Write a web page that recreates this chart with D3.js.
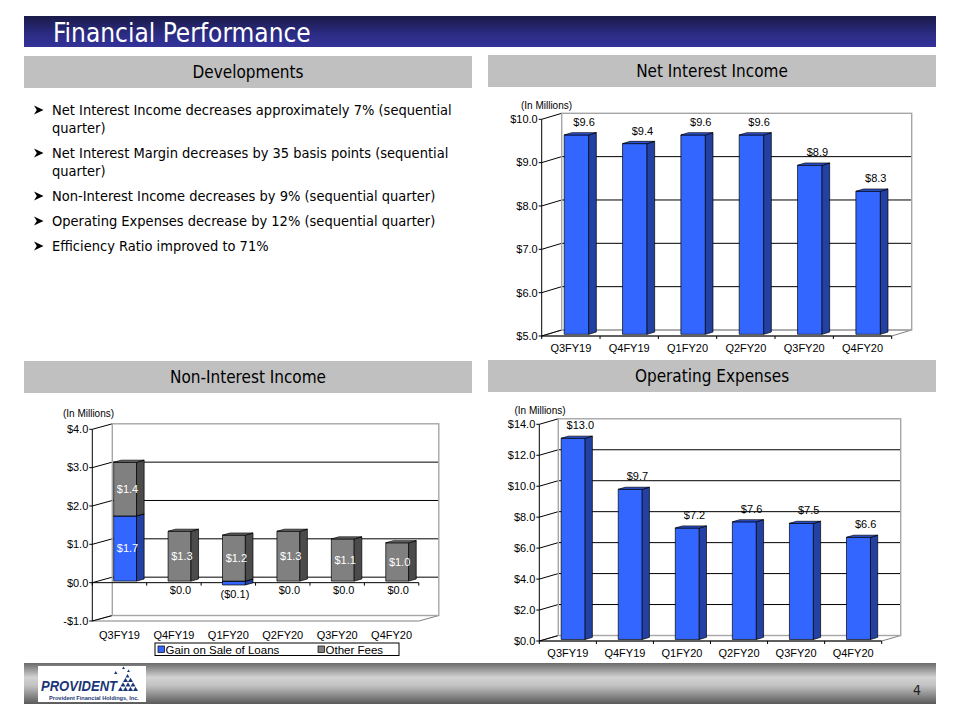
<!DOCTYPE html>
<html>
<head>
<meta charset="utf-8">
<script src="https://cdn.jsdelivr.net/npm/d3@7"></script>
<style>
  html, body { margin: 0; padding: 0; background: #fff; }
  svg { display: block; }
  .slide-text { font-family: "DejaVu Sans", sans-serif; font-stretch: condensed; }
  .chart-text { font-family: "Liberation Sans", Arial, sans-serif; }
</style>
</head>
<body>
<svg id="slide" width="960" height="720"></svg>
<script>
// ---- data ----
const quarters = ["Q3FY19", "Q4FY19", "Q1FY20", "Q2FY20", "Q3FY20", "Q4FY20"];
const netInterestIncome = [9.6, 9.4, 9.6, 9.6, 8.9, 8.3];
const gainOnSaleOfLoans = [1.7, 0.0, -0.1, 0.0, 0.0, 0.0];
const otherFees = [1.4, 1.3, 1.2, 1.3, 1.1, 1.0];
const operatingExpenses = [13.0, 9.7, 7.2, 7.6, 7.5, 6.6];
const nonInterestSeries = ["Gain on Sale of Loans", "Other Fees"];

const niiTicks = [5, 6, 7, 8, 9, 10];
const nonIntTicks = [-1, 0, 1, 2, 3, 4];
const opexTicks = [0, 2, 4, 6, 8, 10, 12, 14];

const bullets = [
  ["Net Interest Income decreases approximately 7% (sequential", "quarter)"],
  ["Net Interest Margin decreases by 35 basis points (sequential", "quarter)"],
  ["Non-Interest Income decreases by 9% (sequential quarter)"],
  ["Operating Expenses decrease by 12% (sequential quarter)"],
  ["Efficiency Ratio improved to 71%"]
];

const blueFaces = { front: "#3366ff", top: "#2d55dc", side: "#2341a3" };
const grayFaces = { front: "#808080", top: "#6c6c6c", side: "#4b4b4b" };

const svg = d3.select("#slide");
const defs = svg.append("defs");

// ---- slide chrome ----
let titleGrad = defs.append("linearGradient").attr("id", "titleGrad")
  .attr("x1", "0%").attr("y1", "0%").attr("x2", "0%").attr("y2", "100%");
titleGrad.append("stop").attr("offset", "0%").attr("stop-color", "#1a1a48");
titleGrad.append("stop").attr("offset", "60%").attr("stop-color", "#2c2c86");
titleGrad.append("stop").attr("offset", "100%").attr("stop-color", "#333399");

let footGrad = defs.append("linearGradient").attr("id", "footGrad")
  .attr("x1", "0%").attr("y1", "0%").attr("x2", "0%").attr("y2", "100%");
footGrad.append("stop").attr("offset", "0%").attr("stop-color", "#6a6a6a");
footGrad.append("stop").attr("offset", "35%").attr("stop-color", "#d2d2d2");
footGrad.append("stop").attr("offset", "55%").attr("stop-color", "#c2c2c2");
footGrad.append("stop").attr("offset", "100%").attr("stop-color", "#5a5a5a");

svg.append("rect").attr("x", 24).attr("y", 16).attr("width", 912).attr("height", 31)
  .attr("fill", "url(#titleGrad)");
svg.append("text").attr("class", "slide-text")
  .attr("x", 53).attr("y", 42).attr("fill", "#fff").attr("font-size", 26)
  .text("Financial Performance");

let headers = [
  { label: "Developments", x: 24, y: 56 },
  { label: "Net Interest Income", x: 488, y: 55 },
  { label: "Non-Interest Income", x: 24, y: 361 },
  { label: "Operating Expenses", x: 488, y: 360 }
];
headers.forEach((h) => {
  svg.append("rect").attr("x", h.x).attr("y", h.y).attr("width", 448).attr("height", 32)
    .attr("fill", "#c0c0c0");
  svg.append("text").attr("class", "slide-text")
    .attr("x", h.x + 224).attr("y", h.y + 22)
    .attr("text-anchor", "middle").attr("font-size", 17).attr("fill", "#000")
    .text(h.label);
});

// bullet list with arrowhead markers
let lineY = 115;
bullets.forEach((lines) => {
  svg.append("path").attr("fill", "#000")
    .attr("transform", `translate(34,${lineY - 5})`)
    .attr("d", "M0,-4.5L9.5,0L0,4.5L2.8,0Z");
  lines.forEach((line, i) => {
    svg.append("text").attr("class", "slide-text")
      .attr("x", 52).attr("y", lineY + i * 18).attr("font-size", 14.5)
      .text(line);
  });
  lineY += lines.length * 18 + 7;
});

// footer
svg.append("rect").attr("x", 24).attr("y", 663).attr("width", 912).attr("height", 41)
  .attr("fill", "url(#footGrad)");
svg.append("text").attr("class", "slide-text")
  .attr("x", 913).attr("y", 695).attr("font-size", 14).attr("fill", "#222").text("4");

let logo = svg.append("g").attr("transform", "translate(38,666)");
logo.append("rect").attr("width", 108).attr("height", 36).attr("fill", "#fff");
logo.append("text").attr("class", "chart-text")
  .attr("x", 3).attr("y", 24.5).attr("font-size", 14).attr("font-weight", "bold")
  .attr("font-style", "italic").attr("fill", "#1b3677")
  .attr("textLength", 76).attr("lengthAdjust", "spacingAndGlyphs").text("PROVIDENT");
logo.append("text").attr("class", "chart-text")
  .attr("x", 11).attr("y", 33.5).attr("font-size", 5.6).attr("font-weight", "bold")
  .attr("fill", "#1b3677").text("Provident Financial Holdings, Inc.");
let logoTriangles = [
  [80, 25, 5], [85, 25, 5], [90, 25, 5], [95, 25, 5],
  [82.5, 20.5, 5], [87.5, 20.5, 5], [92.5, 20.5, 5],
  [85, 16, 5], [90, 16, 5], [87.5, 11.5, 4], [76, 8, 3.5], [84, 3, 3], [89, 6, 3]
];
logo.selectAll("path.tri").data(logoTriangles).enter().append("path")
  .attr("class", "tri").attr("fill", "#1b3677")
  .attr("d", (t) => `M${t[0]},${t[1]}L${t[0] + t[2]},${t[1]}L${t[0] + t[2] / 2},${t[1] - t[2] * 0.85}Z`);

// ---- 3d bar chart helper ----
const depthFront = 0.28, depthBack = 0.66;
const money = (v) => (v < 0 ? `($${Math.abs(v).toFixed(1)})` : `$${v.toFixed(1)}`);
const tickMoney = (v) => (v < 0 ? `-$${Math.abs(v).toFixed(1)}` : `$${v.toFixed(1)}`);

function draw3dBarChart(opt) {
  let g = svg.append("g").attr("class", "chart-text");
  let x = d3.scaleBand().domain(quarters).range([opt.left, opt.right])
    .paddingInner(0.58).paddingOuter(0.29);
  let y = d3.scaleLinear().domain([opt.ticks[0], opt.ticks[opt.ticks.length - 1]])
    .range([opt.bottom, opt.top]);
  let dx = opt.dx, dy = opt.dy;
  let at = (px, py, z) => [px + z * dx, py + z * dy];
  let poly = (pts) => "M" + pts.map((p) => p.join(",")).join("L") + "Z";

  // walls
  g.append("path").attr("fill", "#fff")
    .attr("d", poly([[opt.left, opt.top], at(opt.left, opt.top, 1), at(opt.left, opt.bottom, 1), [opt.left, opt.bottom]]));
  g.append("rect").attr("x", opt.left + dx).attr("y", opt.top + dy)
    .attr("width", opt.right - opt.left).attr("height", opt.bottom - opt.top).attr("fill", "#fff");
  g.append("path").attr("fill", "#fff").attr("stroke", "#808080")
    .attr("d", poly([[opt.left, opt.bottom], [opt.right, opt.bottom], at(opt.right, opt.bottom, 1), at(opt.left, opt.bottom, 1)]));

  // gridlines: diagonal on the side wall, horizontal on the back wall
  opt.ticks.forEach((t, i) => {
    let yy = y(t);
    let interior = i > 0 && i < opt.ticks.length - 1;
    let pts = [[opt.left, yy], at(opt.left, yy, 1)];
    if (interior) pts.push(at(opt.right, yy, 1));
    g.append("path").attr("fill", "none").attr("stroke", "#000").attr("stroke-width", 1)
      .attr("d", "M" + pts.map((p) => p.join(",")).join("L"));
  });
  g.append("rect").attr("x", opt.left + dx).attr("y", opt.top + dy)
    .attr("width", opt.right - opt.left).attr("height", opt.bottom - opt.top)
    .attr("fill", "none").attr("stroke", "#a6a6a6").attr("stroke-width", 1.4);

  // value axis
  g.append("line").attr("x1", opt.left).attr("x2", opt.left)
    .attr("y1", opt.top).attr("y2", opt.bottom).attr("stroke", "#000");
  opt.ticks.forEach((t) => {
    g.append("line").attr("x1", opt.left - 3).attr("x2", opt.left)
      .attr("y1", y(t)).attr("y2", y(t)).attr("stroke", "#000");
    g.append("text").attr("x", opt.left - 4).attr("y", y(t)).attr("dy", "0.35em")
      .attr("text-anchor", "end").attr("font-size", 11).text(tickMoney(t));
  });

  // category axis at zero (or the floor when zero is off scale)
  let cross = y(Math.max(y.domain()[0], Math.min(0, y.domain()[1])));
  g.append("line").attr("x1", opt.left).attr("x2", opt.right)
    .attr("y1", cross).attr("y2", cross).attr("stroke", "#000");
  d3.range(quarters.length + 1).forEach((i) => {
    let xb = opt.left + i * x.step();
    g.append("line").attr("x1", xb).attr("x2", xb)
      .attr("y1", cross).attr("y2", cross + 3).attr("stroke", "#000");
  });
  g.selectAll("text.cat").data(quarters).enter().append("text").attr("class", "cat")
    .attr("x", (q) => x(q) + x.bandwidth() / 2).attr("y", opt.bottom + opt.labelGap)
    .attr("text-anchor", "middle").attr("font-size", 11).text((q) => q);

  // bars (each segment: front, side, top faces)
  let bars = g.append("g");
  opt.segments.forEach((s) => {
    if (s.v0 === s.v1) return;
    let px0 = x(s.q), px1 = px0 + x.bandwidth();
    let yTop = y(Math.max(s.v0, s.v1)), yBot = y(Math.min(s.v0, s.v1));
    let bar = bars.append("g").attr("stroke", "#000").attr("stroke-width", 0.7)
      .attr("stroke-linejoin", "round");
    bar.append("path").attr("fill", s.faces.front)
      .attr("d", poly([at(px0, yTop, depthFront), at(px1, yTop, depthFront), at(px1, yBot, depthFront), at(px0, yBot, depthFront)]));
    bar.append("path").attr("fill", s.faces.side)
      .attr("d", poly([at(px1, yTop, depthFront), at(px1, yTop, depthBack), at(px1, yBot, depthBack), at(px1, yBot, depthFront)]));
    bar.append("path").attr("fill", s.faces.top)
      .attr("d", poly([at(px0, yTop, depthFront), at(px1, yTop, depthFront), at(px1, yTop, depthBack), at(px0, yTop, depthBack)]));
  });

  // data labels
  opt.segments.forEach((s) => {
    let cx = x(s.q) + x.bandwidth() / 2;
    let segH = Math.abs(y(s.v0) - y(s.v1));
    let label = g.append("text").attr("text-anchor", "middle").attr("font-size", 11)
      .text(money(s.value));
    if (opt.inside && segH > 12) {
      label.attr("x", cx + 0.4 * dx).attr("y", (y(s.v0) + y(s.v1)) / 2 + depthFront * dy)
        .attr("dy", "0.35em").attr("fill", "#fff");
    } else if (opt.inside) {
      label.attr("x", cx + 0.33 * dx).attr("y", y(Math.min(s.v1, 0)) + depthFront * dy + 9)
        .attr("dy", "0.35em").attr("fill", "#000");
    } else {
      label.attr("x", cx + depthBack * dx).attr("y", y(s.v1) + depthFront * dy - 9)
        .attr("fill", "#000");
    }
  });

  g.append("text").attr("x", opt.unitX).attr("y", opt.unitY).attr("text-anchor", "middle")
    .attr("font-size", 10).text("(In Millions)");
  return g;
}

const simpleSegments = (values) => values.map((v, i) => (
  { q: quarters[i], v0: 0, v1: v, value: v, faces: blueFaces }
));

// Net Interest Income
draw3dBarChart({
  left: 541.7, right: 891.7, top: 119.3, bottom: 336, dx: 20, dy: -6,
  ticks: niiTicks, labelGap: 16, unitX: 546.5, unitY: 108.5,
  segments: netInterestIncome.map((v, i) => (
    { q: quarters[i], v0: niiTicks[0], v1: v, value: v, faces: blueFaces }
  ))
});

// Non-Interest Income (stacked, negatives diverge below zero)
let stackRows = quarters.map((q, i) => ({
  q: q, [nonInterestSeries[0]]: gainOnSaleOfLoans[i], [nonInterestSeries[1]]: otherFees[i]
}));
let stacked = d3.stack().keys(nonInterestSeries).offset(d3.stackOffsetDiverging)(stackRows);
let nonIntSegments = [];
stacked.forEach((layer, k) => {
  layer.forEach((d) => {
    let value = d.data[layer.key];
    let seg = { q: d.data.q, v0: d[0], v1: d[1], value: value, faces: k === 0 ? blueFaces : grayFaces };
    // negative segments hang from zero downward
    if (value < 0) { seg.v0 = d[1]; seg.v1 = d[0]; }
    nonIntSegments.push(seg);
  });
});
draw3dBarChart({
  left: 92.3, right: 418.8, top: 429.3, bottom: 621, dx: 20, dy: -5.5,
  ticks: nonIntTicks, labelGap: 17.5, unitX: 88.5, unitY: 416.5, inside: true,
  segments: nonIntSegments
});

// legend for Non-Interest Income
let legend = svg.append("g").attr("class", "chart-text").attr("transform", "translate(155,643)");
legend.append("rect").attr("width", 244).attr("height", 12.5).attr("fill", "#fff")
  .attr("stroke", "#000").attr("stroke-width", 1);
let legendItems = legend.selectAll("g.item").data(nonInterestSeries).enter().append("g")
  .attr("class", "item").attr("transform", (d, i) => `translate(${i === 0 ? 3 : 163},0)`);
legendItems.append("rect").attr("x", 0).attr("y", 3).attr("width", 6.5).attr("height", 6.5)
  .attr("stroke", "#000").attr("stroke-width", 0.7)
  .attr("fill", (d, i) => (i === 0 ? blueFaces.front : grayFaces.front));
legendItems.append("text").attr("x", 7.5).attr("y", 10.5).attr("font-size", 11.5)
  .text((d) => d);

// Operating Expenses
draw3dBarChart({
  left: 539.3, right: 881.7, top: 424.3, bottom: 641, dx: 19, dy: -5.5,
  ticks: opexTicks, labelGap: 16, unitX: 540, unitY: 413.5,
  segments: simpleSegments(operatingExpenses)
});
</script>
</body>
</html>
